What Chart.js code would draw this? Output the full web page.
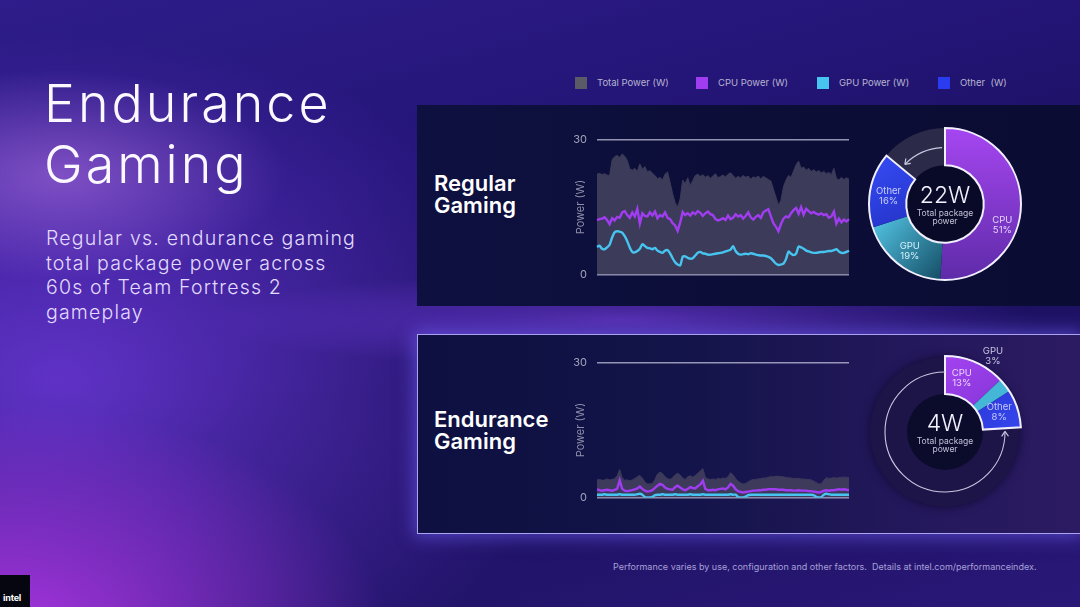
<!DOCTYPE html>
<html>
<head>
<meta charset="utf-8">
<script src="https://cdn.jsdelivr.net/npm/chart.js@4.4.1/dist/chart.umd.min.js"></script>
<style>
  html, body { margin: 0; padding: 0; }
  body {
    width: 1080px; height: 607px; overflow: hidden; position: relative;
    font-family: Inter, 'Noto Sans', sans-serif;
    background:
      radial-gradient(ellipse 300px 140px at 60px 175px, rgba(205,135,245,0.45), rgba(205,135,245,0) 75%),
      radial-gradient(ellipse 540px 330px at 0px 640px, rgba(180,55,232,0.95), rgba(180,55,232,0) 72%),
      radial-gradient(ellipse 700px 460px at 60px 380px, rgba(112,58,222,0.8), rgba(112,58,222,0) 75%),
      radial-gradient(ellipse 520px 60px at 620px 320px, rgba(110,60,210,0.7), rgba(110,60,210,0) 80%),
      linear-gradient(165deg, #2e1d8a 0%, #241578 30%, #1a105e 55%, #22146a 80%, #2a1878 100%);
  }
  .abs { position: absolute; }
  #title { left: 44px; top: 73px; font-size: 52px; line-height: 61px; font-weight: 350; color: #fbf8ff; letter-spacing: 3px; }
  #subtitle { left: 46px; top: 226px; font-size: 19.5px; line-height: 24.6px; font-weight: 350; color: #e2dbff; letter-spacing: 1.2px; }
  .panel { left: 417px; width: 663px; }
  #panelTop { top: 105px; height: 201px; background: linear-gradient(90deg, #0e1040 0%, #0c0e38 50%, #0b0c33 100%); }
  #panelBottom { top: 334px; height: 198px; background: linear-gradient(90deg, #0d1040 0%, #131449 40%, #24185c 75%, #2c1b62 100%);
    border: 1.5px solid #aaa3f2; border-right: none; box-shadow: 0 0 16px 3px rgba(115,100,255,0.55); }
  .plabel { left: 434px; font-size: 22px; line-height: 21.5px; font-weight: 600; color: #ffffff; }
  #legend { left: 0; top: 0; }
  .lg-box { position: absolute; top: 77px; width: 12px; height: 12px; }
  .lg-txt { position: absolute; top: 77px; line-height: 12px; font-size: 9.5px; color: #b6b4cf; white-space: pre; }
  #footer { left: 613px; top: 561px; font-size: 9px; line-height: 12px; color: #a7a0d9; white-space: pre; }
  #intel { left: 0; top: 575px; width: 30px; height: 32px; background: #05060f; }
  #intel span { position: absolute; left: 3px; top: 17px; font-size: 9px; font-weight: 700; color: #fff; letter-spacing: -0.2px; }
  canvas { position: absolute; }
</style>
</head>
<body>

<div id="title" class="abs">Endurance<br>Gaming</div>
<div id="subtitle" class="abs">Regular vs. endurance gaming<br>total package power across<br>60s of Team Fortress 2<br>gameplay</div>

<div id="legend" class="abs"></div>

<div id="panelTop" class="abs panel"></div>
<div id="panelBottom" class="abs panel"></div>

<div class="abs plabel" style="top:173px;">Regular<br>Gaming</div>
<div class="abs plabel" style="top:409px;">Endurance<br>Gaming</div>

<canvas id="regularLine" width="295" height="168" style="left:560px; top:123px;"></canvas>
<canvas id="enduranceLine" width="295" height="168" style="left:560px; top:346px;"></canvas>
<canvas id="regularDonut" width="170" height="170" style="left:860px; top:119px;"></canvas>
<canvas id="enduranceDonut" width="170" height="170" style="left:860px; top:347px;"></canvas>

<div id="footer" class="abs">Performance varies by use, configuration and other factors.  Details at intel.com/performanceindex.</div>
<div id="intel" class="abs"><span>intel</span></div>

<script>
// ---- data ----
const seriesNames = ['Total Power (W)', 'CPU Power (W)', 'GPU Power (W)', 'Other  (W)'];
const seriesColors = ['#5b5b67', '#a13df0', '#47c4ef', '#2b3cf0'];
const yTicks = [0, 30];

// 60 s of gameplay, sampled evenly across the plot
const regularTotal = [22.3,22.5,22.2,22.4,22.1,22.0,25.5,26.2,26.5,26.0,
  26.8,26.3,25.4,23.5,23.2,23.6,22.9,24.6,23.4,24.0,
  22.8,23.1,22.5,22.0,21.3,21.6,21.0,22.3,22.8,20.5,
  18.0,16.0,15.0,16.8,21.0,20.2,21.5,19.8,20.9,22.0,
  22.3,21.8,22.2,21.6,22.0,21.4,21.9,22.4,21.5,21.8,
  22.1,21.7,22.3,22.6,22.0,21.4,21.8,21.5,22.0,21.6,
  21.9,21.2,21.7,21.5,21.9,21.3,21.8,21.5,21.1,20.8,
  19.0,17.2,15.4,16.5,19.5,21.0,22.0,21.6,23.0,24.4,
  25.2,23.6,23.9,23.2,23.6,22.9,23.3,22.8,23.1,22.6,
  22.9,22.4,22.7,22.2,23.6,21.4,21.0,21.6,21.1,21.5,
  21.2];
const regularCpu = [12.1,12.3,12.4,12.7,12.1,11.2,12.5,12.0,12.8,12.6,
  13.8,14.1,13.2,12.6,13.8,12.9,14.6,11.3,13.6,13.0,
  12.9,13.8,13.1,14.0,12.5,13.2,12.9,13.8,12.6,12.3,
  11.4,10.9,9.7,11.5,13.9,13.2,13.6,13.1,13.8,13.4,
  14.1,13.7,13.0,13.6,14.0,13.4,13.2,12.3,12.0,12.2,
  12.5,12.1,13.1,12.3,12.6,13.4,12.9,13.2,12.4,13.0,
  13.8,12.7,12.2,12.8,13.2,12.6,13.8,14.2,14.5,12.9,
  11.4,10.6,9.6,11.2,12.4,12.9,12.7,13.6,14.3,14.8,
  13.5,15.0,13.3,14.6,14.1,13.6,13.9,13.5,13.3,13.6,
  13.2,13.4,12.6,12.9,14.0,11.3,12.4,11.6,12.2,11.8,
  12.3];
const regularGpu = [6.1,6.4,5.7,5.6,6.0,6.6,8.2,9.4,9.6,9.5,
  9.3,8.5,7.4,6.0,5.0,4.9,5.2,5.7,6.7,6.3,
  5.9,5.8,5.6,5.9,5.3,5.0,4.8,5.3,5.4,4.7,
  3.6,2.7,2.2,2.0,3.9,4.0,3.7,3.5,3.6,4.2,
  4.8,5.0,4.7,4.6,4.4,4.4,4.5,4.6,4.7,4.8,
  4.9,5.1,5.3,5.5,6.3,5.2,4.6,4.4,4.5,4.6,
  4.5,4.7,4.6,4.4,4.3,4.2,4.2,4.1,3.9,3.6,
  3.0,2.4,2.1,2.2,2.4,3.4,5.1,4.6,4.3,4.6,
  6.2,6.0,5.7,5.3,5.1,4.9,4.8,4.8,4.9,5.0,
  5.0,5.1,5.2,5.2,5.4,5.6,5.1,4.8,4.8,5.0,
  5.3];

const enduranceTotal = [3.9,4.0,3.8,3.9,4.1,3.9,4.0,4.2,4.8,6.2,
  4.4,3.8,3.9,3.7,3.9,4.2,4.6,4.9,4.3,3.4,
  3.0,3.0,3.1,4.0,5.2,5.6,5.3,4.6,4.2,4.0,
  4.4,5.0,5.4,5.0,4.3,4.0,4.6,4.8,4.5,4.9,
  5.4,5.9,6.4,4.5,4.1,4.0,4.1,4.0,4.2,4.1,
  4.3,4.2,4.6,5.5,5.0,4.2,3.6,3.2,3.0,3.1,
  3.5,3.8,4.0,4.0,4.1,4.2,4.3,4.3,4.5,4.6,
  4.6,4.7,4.7,4.6,4.6,4.4,4.4,4.3,4.2,4.2,
  4.2,4.1,4.1,4.0,4.0,3.9,3.6,3.3,3.0,3.0,
  3.8,4.4,4.2,4.3,4.4,4.3,4.4,4.5,4.5,4.5,
  4.4];
const enduranceCpu = [1.8,1.6,1.5,1.6,1.7,1.6,1.5,1.7,1.9,3.8,
  1.9,1.5,1.4,1.5,1.6,1.8,2.0,2.4,1.9,1.5,
  1.3,1.4,1.6,2.1,2.6,3.0,2.8,2.2,1.9,1.8,
  1.7,2.3,2.6,2.2,1.8,1.6,1.9,2.3,2.1,2.0,
  2.5,2.9,3.7,1.9,1.6,1.6,1.7,1.6,1.8,1.9,
  2.0,1.8,2.2,3.0,2.6,1.8,1.4,1.2,1.1,1.2,
  1.3,1.4,1.5,1.5,1.6,1.6,1.7,1.7,1.8,1.8,
  1.8,1.8,1.7,1.7,1.7,1.6,1.6,1.6,1.5,1.5,
  1.6,1.5,1.5,1.5,1.4,1.4,1.3,1.2,1.1,1.2,
  1.5,1.6,1.5,1.6,1.6,1.7,1.8,1.7,1.8,1.7,
  1.6];
const enduranceGpu = [0.6,0.6,0.6,0.7,0.6,0.6,0.6,0.6,0.6,0.7,
  0.6,0.6,0.6,0.6,0.6,0.6,0.7,0.8,0.6,0.1,
  0.0,0.0,0.1,0.5,0.6,0.6,0.7,0.6,0.6,0.6,
  0.6,0.7,0.6,0.6,0.6,0.6,0.6,0.7,0.6,0.6,
  0.6,0.6,0.7,0.6,0.6,0.6,0.6,0.6,0.6,0.6,
  0.6,0.6,0.6,0.7,0.6,0.6,0.1,0.0,0.0,0.2,
  0.5,0.6,0.6,0.6,0.6,0.6,0.6,0.6,0.6,0.6,
  0.6,0.6,0.6,0.6,0.6,0.6,0.6,0.6,0.6,0.6,
  0.6,0.6,0.6,0.6,0.6,0.6,0.5,0.1,0.0,0.1,
  0.6,0.8,0.7,0.6,0.6,0.6,0.6,0.6,0.6,0.6,
  0.6];

const shareLabels = ['CPU', 'GPU', 'Other'];
const regularShare = [51, 19, 16];
const enduranceShare = [13, 3, 8];
const packagePower = [22, 4];

const seconds = regularTotal.map((_, i) => (i * 0.6).toFixed(1));

// ---- legend ----
const legendX = [575, 696, 817, 938];
const legendEl = document.getElementById('legend');
seriesNames.forEach((name, i) => {
  const box = document.createElement('div');
  box.className = 'lg-box';
  box.style.left = legendX[i] + 'px';
  box.style.background = seriesColors[i];
  const txt = document.createElement('div');
  txt.className = 'lg-txt';
  txt.style.left = (legendX[i] + 22) + 'px';
  txt.textContent = name;
  legendEl.appendChild(box);
  legendEl.appendChild(txt);
});

// ---- line charts ----
// note: tick padding also pads the top/bottom of the y axis (~16.6px each side)
function lineChart(id, total, cpu, gpu, fillColor) {
  return new Chart(document.getElementById(id), {
    type: 'line',
    data: {
      labels: seconds,
      datasets: [
        { label: seriesNames[1], data: cpu, borderColor: seriesColors[1], borderWidth: 2.4, pointRadius: 0, tension: 0, order: 1 },
        { label: seriesNames[2], data: gpu, borderColor: seriesColors[2], borderWidth: 2.4, pointRadius: 0, tension: 0.25, order: 2 },
        { label: seriesNames[0], data: total, borderColor: fillColor, backgroundColor: fillColor, fill: 'origin', borderWidth: 1, pointRadius: 0, tension: 0, order: 3 }
      ]
    },
    options: {
      responsive: false,
      animation: false,
      events: [],
      layout: { padding: { top: 0, bottom: 0, left: 0, right: 6 } },
      plugins: { legend: { display: false }, tooltip: { enabled: false } },
      scales: {
        x: { display: false },
        y: {
          min: 0, max: 30,
          afterBuildTicks: s => { s.ticks = yTicks.map(v => ({ value: v })); },
          afterFit: s => { s.width = 37; },
          border: { display: false },
          grid: { color: 'rgba(205,205,228,0.7)', lineWidth: 1.5, drawTicks: false },
          ticks: { color: '#a4a3bc', font: { size: 11, family: 'Inter' }, padding: 10 },
          title: { display: true, text: 'Power (W)', color: '#8f8eaa', font: { size: 11, family: 'Inter' }, padding: { top: 14, bottom: 0 } }
        }
      }
    }
  });
}

lineChart('regularLine', regularTotal, regularCpu, regularGpu, '#3c3b59');
lineChart('enduranceLine', enduranceTotal, enduranceCpu, enduranceGpu, '#3d3a5c');

// ---- donut helpers ----
const DEG = Math.PI / 180;

function groupOutline(ctx, arcs, count, color) {
  const a = arcs[0], b = arcs[count - 1];
  ctx.save();
  ctx.beginPath();
  ctx.arc(a.x, a.y, a.outerRadius, a.startAngle, b.endAngle);
  ctx.arc(a.x, a.y, a.innerRadius, b.endAngle, a.startAngle, true);
  ctx.closePath();
  ctx.strokeStyle = color;
  ctx.lineWidth = 2;
  ctx.stroke();
  ctx.restore();
}

function arrowHead(ctx, cx, cy, r, ang, ccw, color) {
  const px = cx + r * Math.cos(ang), py = cy + r * Math.sin(ang);
  const dx = ccw ? Math.sin(ang) : -Math.sin(ang);
  const dy = ccw ? -Math.cos(ang) : Math.cos(ang);
  const L = 6;
  ctx.save();
  ctx.strokeStyle = color;
  ctx.lineWidth = 1.2;
  ctx.beginPath();
  [35, -35].forEach(t => {
    const c = Math.cos(t * DEG), s = Math.sin(t * DEG);
    const wx = -(dx * c - dy * s), wy = -(dx * s + dy * c);
    ctx.moveTo(px, py);
    ctx.lineTo(px + wx * L, py + wy * L);
  });
  ctx.stroke();
  ctx.restore();
}

function centerText(ctx, x, y, value) {
  ctx.save();
  ctx.textAlign = 'center';
  ctx.textBaseline = 'middle';
  ctx.fillStyle = '#f4f2ff';
  ctx.font = '300 23px Inter';
  ctx.fillText(value + 'W', x, y - 8);
  ctx.fillStyle = '#c4c2d8';
  ctx.font = '8.5px Inter';
  ctx.fillText('Total package', x, y + 9);
  ctx.fillText('power', x, y + 17.5);
  ctx.restore();
}

function segmentLabels(ctx, arcs, values, placement) {
  ctx.save();
  ctx.textAlign = 'center';
  ctx.textBaseline = 'middle';
  ctx.font = '9.5px Inter';
  values.forEach((v, i) => {
    const arc = arcs[i];
    const p = placement[i];
    const mid = (arc.startAngle + arc.endAngle) / 2 + (p.turn || 0) * DEG;
    const r = p.r != null ? p.r : (arc.innerRadius + arc.outerRadius) / 2;
    const x = arc.x + r * Math.cos(mid) + (p.dx || 0);
    const y = arc.y + r * Math.sin(mid) + (p.dy || 0);
    ctx.fillStyle = p.color;
    ctx.fillText(shareLabels[i], x, y - 5);
    ctx.fillText(v + '%', x, y + 5);
  });
  ctx.restore();
}

function gradientFill(spec) {
  return (c) => {
    const s = spec[c.dataIndex];
    if (typeof s === 'string') return s;
    const area = c.chart.chartArea;
    if (!area) return s[5];
    const w = area.right - area.left, h = area.bottom - area.top;
    const g = c.chart.ctx.createLinearGradient(area.left + s[0] * w, area.top + s[1] * h, area.left + s[2] * w, area.top + s[3] * h);
    g.addColorStop(0, s[4]);
    g.addColorStop(1, s[5]);
    return g;
  };
}

// ---- regular donut ----
const regularFills = [
  [0.5, 0.0, 0.5, 1.0, '#aa48f5', '#5a29a4'],
  [0.05, 0.55, 0.55, 1.0, '#58cff0', '#0b3a50'],
  [0.1, 0.3, 0.3, 0.7, '#3247ec', '#2230c2'],
  '#2b2a49'
];

const regularDecor = {
  id: 'regularDecor',
  beforeDatasetsDraw(chart) {
    const arc = chart.getDatasetMeta(0).data[0];
    const ctx = chart.ctx;
    ctx.save();
    ctx.beginPath();
    ctx.arc(arc.x, arc.y, arc.innerRadius, 0, Math.PI * 2);
    ctx.fillStyle = '#090a27';
    ctx.fill();
    ctx.restore();
  },
  afterDatasetsDraw(chart) {
    const ctx = chart.ctx;
    const arcs = chart.getDatasetMeta(0).data;
    groupOutline(ctx, arcs, regularShare.length, '#f1efff');
    const idle = arcs[regularShare.length];
    const r = (idle.innerRadius + idle.outerRadius) / 2 - 1;
    const a0 = idle.endAngle - 3 * DEG, a1 = idle.startAngle + 5 * DEG;
    ctx.save();
    ctx.strokeStyle = '#cbc9e2';
    ctx.lineWidth = 1.2;
    ctx.beginPath();
    ctx.arc(idle.x, idle.y, r, a0, a1, true);
    ctx.stroke();
    ctx.restore();
    arrowHead(ctx, idle.x, idle.y, r, a1, true, '#cbc9e2');
    segmentLabels(ctx, arcs, regularShare, [
      { color: '#e6d3ff', dy: 19 },
      { color: '#d3f1ff', dy: 2 },
      { color: '#c9d0ff', dy: 3 }
    ]);
    centerText(ctx, idle.x, idle.y, packagePower[0]);
  }
};

new Chart(document.getElementById('regularDonut'), {
  type: 'doughnut',
  data: {
    labels: [...shareLabels, 'Rest'],
    datasets: [{
      data: [...regularShare, 100 - regularShare.reduce((a, b) => a + b, 0)],
      backgroundColor: gradientFill(regularFills),
      borderWidth: 0
    }]
  },
  options: {
    responsive: false, animation: false, events: [],
    radius: 76, cutout: '51%',
    layout: { padding: 0 },
    plugins: { legend: { display: false }, tooltip: { enabled: false } }
  },
  plugins: [regularDecor]
});

// ---- endurance donut ----
const enduranceFills = [
  [0.5, 0.0, 0.8, 0.4, '#a545f2', '#8534d8'],
  '#44b6d6',
  [0.6, 0.2, 0.9, 0.5, '#2a32d6', '#3446ea'],
  'rgba(0,0,0,0)'
];

const enduranceDecor = {
  id: 'enduranceDecor',
  beforeDatasetsDraw(chart) {
    const arc = chart.getDatasetMeta(0).data[0];
    const ctx = chart.ctx;
    ctx.save();
    ctx.shadowColor = 'rgba(12,6,40,0.7)';
    ctx.shadowBlur = 10;
    ctx.beginPath();
    ctx.arc(arc.x, arc.y, arc.outerRadius - 1, 0, Math.PI * 2);
    ctx.fillStyle = '#1d1547';
    ctx.fill();
    ctx.shadowBlur = 0;
    ctx.beginPath();
    ctx.arc(arc.x, arc.y, arc.innerRadius, 0, Math.PI * 2);
    ctx.fillStyle = '#0b0b2c';
    ctx.fill();
    ctx.restore();
  },
  afterDatasetsDraw(chart) {
    const ctx = chart.ctx;
    const arcs = chart.getDatasetMeta(0).data;
    const n = enduranceShare.length;
    groupOutline(ctx, arcs, n, '#f1efff');
    const first = arcs[0], last = arcs[n - 1];
    const r = (first.innerRadius + first.outerRadius) / 2 + 3;
    const a0 = last.endAngle + 3 * DEG, a1 = first.startAngle + Math.PI * 2;
    ctx.save();
    ctx.strokeStyle = '#c9c6e2';
    ctx.lineWidth = 1.1;
    ctx.beginPath();
    ctx.arc(first.x, first.y, r, a0, a1);
    ctx.stroke();
    ctx.restore();
    arrowHead(ctx, first.x, first.y, r, a0, true, '#c9c6e2');
    segmentLabels(ctx, arcs, enduranceShare, [
      { color: '#ecd6ff', turn: -6, r: 56 },
      { color: '#c9c7e2', turn: -20, r: 90 },
      { color: '#c6ccff', r: 57, dy: -2 }
    ]);
    centerText(ctx, first.x, first.y, packagePower[1]);
  }
};

new Chart(document.getElementById('enduranceDonut'), {
  type: 'doughnut',
  data: {
    labels: [...shareLabels, 'Rest'],
    datasets: [{
      data: [...enduranceShare, 100 - enduranceShare.reduce((a, b) => a + b, 0)],
      backgroundColor: gradientFill(enduranceFills),
      borderWidth: 0
    }]
  },
  options: {
    responsive: false, animation: false, events: [],
    radius: 76, cutout: '50%',
    layout: { padding: 0 },
    plugins: { legend: { display: false }, tooltip: { enabled: false } }
  },
  plugins: [enduranceDecor]
});
</script>
</body>
</html>
